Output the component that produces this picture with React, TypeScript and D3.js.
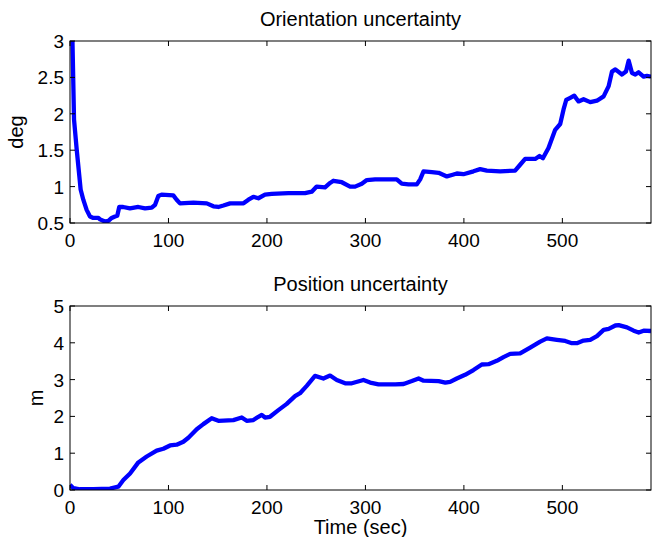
import React, { useEffect, useRef } from "react";
import * as d3 from "d3";

// Orientation uncertainty (deg)
const orientTime = [0, 2.5, 4.1, 6.8, 9.5, 10.8, 13.5, 16.9, 20.3, 23.7, 28.8, 30.5, 35.5, 39, 42.3, 45.7, 48, 50, 54, 60.9, 69.4, 76.2, 83, 86.4, 89.7, 93, 104.9, 108.3, 111.7, 125.3, 138.9, 145.6, 150.7, 155.8, 162.6, 169.4, 176.2, 181.2, 186.2, 191.3, 198, 204.8, 221.8, 238.7, 245.5, 250.5, 259, 264.1, 267.5, 276, 284.4, 289.5, 296.3, 301.4, 309.8, 323.4, 331.8, 336.9, 343.7, 352.2, 355.6, 359, 367.5, 374.3, 382.7, 387.8, 392.8, 399.5, 409.7, 416.5, 423.3, 436.8, 452, 457.1, 462.2, 472.4, 476.8, 480.2, 485.9, 492.7, 497.8, 501.2, 503.9, 508, 512, 516.4, 521.5, 528.3, 535.1, 541.9, 547, 550.4, 553.8, 560.5, 564.6, 567.3, 570.7, 574.1, 577.4, 582.5, 585.9, 590];
const orientDeg = [3.6, 3.0, 1.92, 1.51, 1.14, 0.96, 0.82, 0.68, 0.59, 0.57, 0.57, 0.55, 0.52, 0.53, 0.57, 0.59, 0.6, 0.72, 0.72, 0.7, 0.72, 0.7, 0.71, 0.75, 0.87, 0.89, 0.88, 0.82, 0.77, 0.78, 0.77, 0.73, 0.72, 0.74, 0.77, 0.77, 0.77, 0.82, 0.86, 0.84, 0.89, 0.9, 0.91, 0.91, 0.93, 1.0, 0.99, 1.05, 1.08, 1.06, 1.0, 1.0, 1.04, 1.09, 1.1, 1.1, 1.1, 1.04, 1.03, 1.03, 1.1, 1.21, 1.2, 1.19, 1.14, 1.16, 1.18, 1.17, 1.21, 1.24, 1.22, 1.21, 1.22, 1.3, 1.38, 1.38, 1.42, 1.39, 1.53, 1.78, 1.86, 2.06, 2.19, 2.22, 2.25, 2.17, 2.2, 2.16, 2.18, 2.24, 2.38, 2.58, 2.61, 2.54, 2.58, 2.73, 2.56, 2.54, 2.57, 2.51, 2.52, 2.51];

// Position uncertainty (m)
const posTime = [0, 3.4, 10.2, 23.7, 40.6, 49.1, 54.2, 61, 69.4, 77.9, 88, 94.8, 101.6, 108.3, 115.1, 120.2, 128.7, 135.4, 143.9, 150.7, 165.9, 174.4, 179.4, 186.2, 191.3, 194.7, 198, 203.1, 211.6, 220.1, 228.5, 233.6, 240.4, 248.8, 257.3, 264.1, 270.9, 279.4, 286.2, 298, 304.8, 313.3, 330.3, 338.8, 347.2, 354, 359.1, 374.3, 381.1, 386, 392.8, 401.2, 409.7, 418.2, 425, 433.4, 440.2, 447, 457.1, 467.3, 477.5, 484.3, 494.4, 502.9, 509.7, 514.7, 521.5, 528.3, 535.1, 541.9, 547, 553.8, 557.2, 565.6, 572.4, 577.5, 582.5, 590];
const posM = [0.14, 0.05, 0.02, 0.02, 0.04, 0.09, 0.27, 0.45, 0.75, 0.91, 1.07, 1.12, 1.21, 1.23, 1.31, 1.42, 1.65, 1.79, 1.95, 1.88, 1.9, 1.97, 1.88, 1.9, 1.99, 2.04, 1.97, 1.99, 2.17, 2.34, 2.55, 2.63, 2.83, 3.1, 3.03, 3.11, 2.99, 2.9, 2.9, 2.99, 2.92, 2.87, 2.87, 2.88, 2.96, 3.03, 2.97, 2.96, 2.92, 2.94, 3.03, 3.13, 3.26, 3.41, 3.42, 3.51, 3.61, 3.7, 3.71, 3.87, 4.03, 4.12, 4.08, 4.05, 3.99, 3.99, 4.06, 4.08, 4.18, 4.35, 4.38, 4.47, 4.48, 4.42, 4.33, 4.28, 4.33, 4.32];

const timeTicks = [0, 100, 200, 300, 400, 500];
const orientTicks = [0.5, 1, 1.5, 2, 2.5, 3];
const posTicks = [0, 1, 2, 3, 4, 5];

const W = 657;
const H = 537;
const FONT = "'Liberation Sans', Arial, Helvetica, sans-serif";

const App = () => {
  const ref = useRef(null);

  useEffect(() => {
    const svg = d3.select(ref.current);
    svg.selectAll("*").remove();

    const left = 70;
    const right = 651;
    const x = d3.scaleLinear().domain([0, 590]).range([left, right]);

    const panel = (id, top, bottom, title, ylabel, ylabelX, yDomain, yTicks, xs, ys) => {
      const y = d3.scaleLinear().domain(yDomain).range([bottom, top]);
      const g = svg.append("g");

      g.append("clipPath").attr("id", id).append("rect")
        .attr("x", left).attr("y", top).attr("width", right - left).attr("height", bottom - top);

      const line = d3.line().x((d) => x(d[0])).y((d) => y(d[1]));
      g.append("path")
        .datum(xs.map((t, i) => [t, ys[i]]))
        .attr("clip-path", `url(#${id})`)
        .attr("fill", "none")
        .attr("stroke", "#0000ff")
        .attr("stroke-width", 4.3)
        .attr("stroke-linejoin", "round")
        .attr("d", line);

      // box
      g.append("rect").attr("x", left).attr("y", top).attr("width", right - left).attr("height", bottom - top)
        .attr("fill", "none").attr("stroke", "#000").attr("stroke-width", 1);

      // inward ticks on all sides
      const tl = 5;
      timeTicks.forEach((t) => {
        g.append("line").attr("x1", x(t)).attr("x2", x(t)).attr("y1", bottom).attr("y2", bottom - tl).attr("stroke", "#000");
        g.append("line").attr("x1", x(t)).attr("x2", x(t)).attr("y1", top).attr("y2", top + tl).attr("stroke", "#000");
        g.append("text").attr("x", x(t)).attr("y", bottom + 24).attr("text-anchor", "middle")
          .attr("font-family", FONT).attr("font-size", 19).text(t);
      });
      yTicks.forEach((v) => {
        g.append("line").attr("x1", left).attr("x2", left + tl).attr("y1", y(v)).attr("y2", y(v)).attr("stroke", "#000");
        g.append("line").attr("x1", right).attr("x2", right - tl).attr("y1", y(v)).attr("y2", y(v)).attr("stroke", "#000");
        g.append("text").attr("x", left - 6).attr("y", y(v) + 7).attr("text-anchor", "end")
          .attr("font-family", FONT).attr("font-size", 19).text(v);
      });

      g.append("text").attr("x", (left + right) / 2).attr("y", top - 15).attr("text-anchor", "middle")
        .attr("font-family", FONT).attr("font-size", 20).text(title);
      g.append("text").attr("transform", `translate(${ylabelX},${(top + bottom) / 2}) rotate(-90)`)
        .attr("text-anchor", "middle").attr("font-family", FONT).attr("font-size", 20).text(ylabel);
    };

    panel("clipTop", 41, 223, "Orientation uncertainty", "deg", 23, [0.5, 3], orientTicks, orientTime, orientDeg);
    panel("clipBot", 306, 490, "Position uncertainty", "m", 43, [0, 5], posTicks, posTime, posM);

    svg.append("text").attr("x", (left + right) / 2).attr("y", 534).attr("text-anchor", "middle")
      .attr("font-family", FONT).attr("font-size", 20).text("Time (sec)");
  }, []);

  return (
    <svg ref={ref} width={W} height={H} style={{ position: "absolute", left: 0, top: 0, background: "#fff" }}></svg>
  );
};

export default App;
